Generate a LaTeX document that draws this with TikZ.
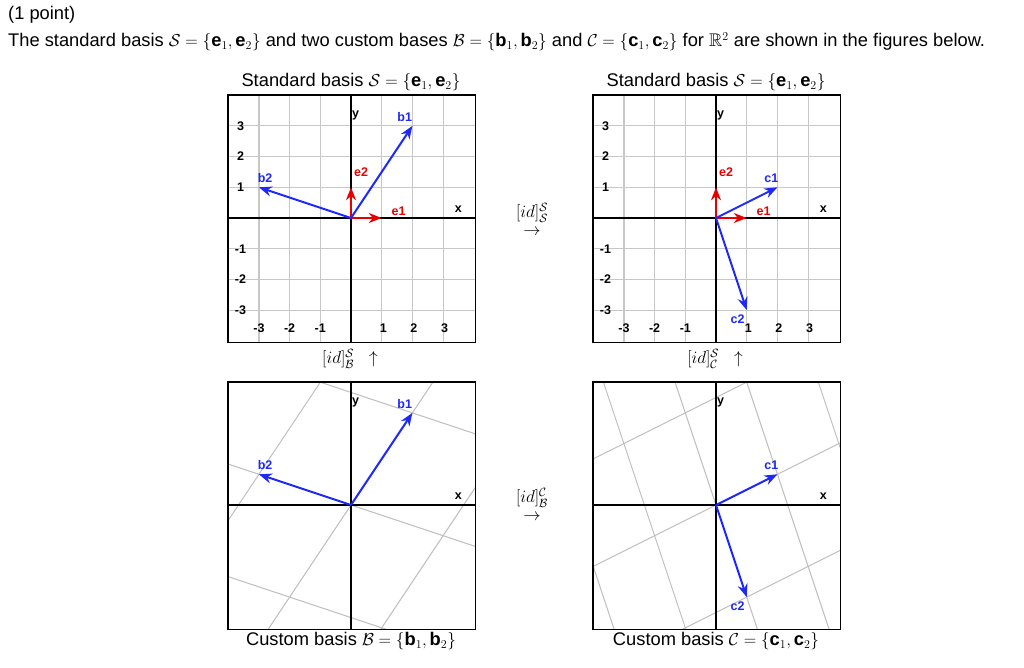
\documentclass[tikz,border=0pt]{standalone}
\usepackage{amsmath,amssymb}
\usepackage{fontspec}
\setmainfont{Liberation Sans}
\usetikzlibrary{arrows.meta}
\tikzset{
  frame/.style={draw=black, line width=1.6pt},
  sgrid/.style={draw=black!22, line width=1.2pt},
  cgrid/.style={draw=black!25, line width=1pt},
  axis/.style={draw=black, line width=1.2pt},
  bvec/.style={draw={rgb,255:red,30;green,40;blue,250}, line width=2pt, -{Stealth[length=13pt,width=10pt]}},
  rvec/.style={draw={rgb,255:red,230;green,0;blue,0}, line width=2pt, -{Stealth[length=13pt,width=10pt]}},
  tick/.style={font=\fontsize{12.5}{12.5}\selectfont\bfseries, inner sep=0pt},
  blab/.style={font=\fontsize{12.5}{12.5}\selectfont\bfseries, text={rgb,255:red,30;green,40;blue,250}, inner sep=0pt},
  rlab/.style={font=\fontsize{12.5}{12.5}\selectfont\bfseries, text={rgb,255:red,230;green,0;blue,0}, inner sep=0pt},
  txt/.style={font=\fontsize{18.3}{20}\selectfont, inner sep=0pt},
}
\begin{document}
\begin{tikzpicture}[x=1pt,y=1pt]
\useasboundingbox[fill=white] (0,-668) rectangle (1024,0);
\node[txt,anchor=west] (t1) at (8,-15) {(1 point)};
\node[txt,anchor=west] (t2) at (8,-42) {The standard basis $\mathcal{S}=\{\mathbf{e}_1,\mathbf{e}_2\}$ and two custom bases $\mathcal{B}=\{\mathbf{b}_1,\mathbf{b}_2\}$ and $\mathcal{C}=\{\mathbf{c}_1,\mathbf{c}_2\}$ for $\mathbb{R}^2$ are shown in the figures below.};
% captions
\node[txt] (capA) at (351,-82) {Standard basis $\mathcal{S}=\{\mathbf{e}_1,\mathbf{e}_2\}$};
\node[txt] (capB) at (716,-82) {Standard basis $\mathcal{S}=\{\mathbf{e}_1,\mathbf{e}_2\}$};
\node[txt] (capC) at (351,-641) {Custom basis $\mathcal{B}=\{\mathbf{b}_1,\mathbf{b}_2\}$};
\node[txt] (capD) at (716,-641) {Custom basis $\mathcal{C}=\{\mathbf{c}_1,\mathbf{c}_2\}$};
\node[txt] (m1) at (532,-213) {$[id]_{\mathcal{S}}^{\mathcal{S}}$};
\node[txt] (m1a) at (532,-232) {$\rightarrow$};
\node[txt] (m2) at (532,-498) {$[id]_{\mathcal{B}}^{\mathcal{C}}$};
\node[txt] (m2a) at (532,-517) {$\rightarrow$};
\node[txt] (m3) at (350,-359) {$[id]_{\mathcal{B}}^{\mathcal{S}}\ \ \uparrow$};
\node[txt] (m4) at (715,-359) {$[id]_{\mathcal{C}}^{\mathcal{S}}\ \ \uparrow$};
% ---- standard panels
\foreach \ox/\nm in {351/A,716/B}{
\begin{scope}[shift={(\ox pt,-218pt)}, x=30.7pt, y=30.7pt]
  \foreach \k in {-3,...,3}{
    \draw[sgrid] (\k,-4.05) -- (\k,4);
    \draw[sgrid] (-4,\k) -- (4.05,\k);
  }
  \draw[axis] (-4,0) -- (4.05,0);
  \draw[axis] (0,-4.05) -- (0,4);
  \draw[frame] (-4,-4.05) rectangle (4.05,4);
  \foreach \k in {-3,-2,-1}{ \node[tick] at (\k,-3.6) {\k}; \node[tick] at (-3.6,\k) {\k}; }
  \foreach \k in {1,2,3}{ \node[tick] at (\k+0.05,-3.6) {\k}; \node[tick] at (-3.6,\k) {\k}; }
  \node[tick] at (3.5,0.3) {x};
  \node[tick] at (0.15,3.35) {y};
  \coordinate (o\nm) at (0,0);
  \coordinate (e1\nm) at (1,0);
  \coordinate (e2\nm) at (0,1);
  \draw[rvec] (o\nm) -- (e1\nm);
  \draw[rvec] (o\nm) -- (e2\nm);
  \node[rlab] at (1.55,0.22) {e1};
  \node[rlab] at (0.33,1.5) {e2};
\end{scope}}
\begin{scope}[shift={(351pt,-218pt)}, x=30.7pt, y=30.7pt]
  \coordinate (b1) at (2,3); \coordinate (b2) at (-3,1);
  \draw[bvec] (oA) -- (b1); \draw[bvec] (oA) -- (b2);
  \node[blab] at (1.75,3.3) {b1};
  \node[blab] at (-2.8,1.3) {b2};
\end{scope}
\begin{scope}[shift={(716pt,-218pt)}, x=30.7pt, y=30.7pt]
  \coordinate (c1) at (2,1); \coordinate (c2) at (1,-3);
  \draw[bvec] (oB) -- (c1); \draw[bvec] (oB) -- (c2);
  \node[blab] at (1.8,1.3) {c1};
  \node[blab] at (0.7,-3.3) {c2};
\end{scope}
% ---- custom panels
\foreach \ox/\ax/\ay/\bx/\by/\nm in {351/2/3/-3/1/C,716/2/1/1/-3/D}{
\begin{scope}[shift={(\ox pt,-505pt)}, x=30.7pt, y=30.7pt]
  \begin{scope}
  \clip (-4,-4.05) rectangle (4.05,4);
  \foreach \k in {-5,...,5}{
    \draw[cgrid] ({\k*\bx-8*\ax},{\k*\by-8*\ay}) -- ({\k*\bx+8*\ax},{\k*\by+8*\ay});
    \draw[cgrid] ({\k*\ax-8*\bx},{\k*\ay-8*\by}) -- ({\k*\ax+8*\bx},{\k*\ay+8*\by});
  }
  \end{scope}
  \draw[axis] (-4,0) -- (4.05,0);
  \draw[axis] (0,-4.05) -- (0,4);
  \draw[frame] (-4,-4.05) rectangle (4.05,4);
  \node[tick] at (3.5,0.3) {x};
  \node[tick] at (0.15,3.35) {y};
  \coordinate (o\nm) at (0,0);
  \coordinate (u\nm) at (\ax,\ay);
  \coordinate (v\nm) at (\bx,\by);
  \draw[bvec] (o\nm) -- (u\nm);
  \draw[bvec] (o\nm) -- (v\nm);
\end{scope}}
\begin{scope}[shift={(351pt,-505pt)}, x=30.7pt, y=30.7pt]
  \node[blab] at (1.75,3.3) {b1};
  \node[blab] at (-2.8,1.3) {b2};
\end{scope}
\begin{scope}[shift={(716pt,-505pt)}, x=30.7pt, y=30.7pt]
  \node[blab] at (1.8,1.3) {c1};
  \node[blab] at (0.7,-3.3) {c2};
\end{scope}
\end{tikzpicture}
\end{document}
